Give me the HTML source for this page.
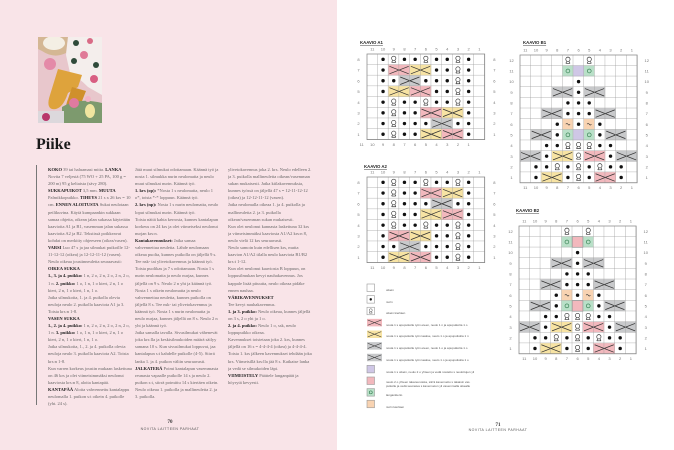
<!DOCTYPE html>
<html><head><meta charset="utf-8"><style>
body{margin:0;width:674px;height:450px;overflow:hidden;background:#fff;font-family:"Liberation Serif",serif}
.lp{position:absolute;left:0;top:0;width:337px;height:450px;background:#f9e4e8}
.col{position:absolute;top:166px;width:84px;font-size:4.5px;line-height:7.1px;color:#666;text-align:left;overflow:hidden;height:240px}
.col b{color:#222}
</style></head><body>
<div class="lp">
 <svg style="position:absolute;left:38px;top:37px" width="64" height="86" viewBox="0 0 64 86">
  <rect width="64" height="86" fill="#e8c7cc"/>
  <path d="M0 0H30L28 16Q16 22 4 14L0 12Z" fill="#d4b794"/>
  <ellipse cx="16" cy="6" rx="11" ry="7" fill="#f4efe4"/>
  <path d="M30 0H64V58L50 50Q40 40 32 36L28 18Z" fill="#f4eeec"/>
  <circle cx="38" cy="6" r="3" fill="#2f4a3a"/><circle cx="52" cy="4" r="3" fill="#d96b86"/>
  <circle cx="46" cy="18" r="4" fill="#e07a98"/><circle cx="36" cy="24" r="3" fill="#2f4a3a"/>
  <circle cx="58" cy="28" r="3" fill="#2f4a3a"/><circle cx="56" cy="42" r="4" fill="#d85f82"/>
  <circle cx="12" cy="27" r="6" fill="#e48aa8"/>
  <path d="M20 32L44 38L40 50L30 56Q24 74 14 72Q8 70 12 58Z" fill="#dea33c"/>
  <path d="M34 50L48 54L44 64Q38 80 30 76Q26 72 30 62Z" fill="#cf902c"/>
  <path d="M24 70Q40 60 64 66V86H24Z" fill="#7d9a6e"/>
  <circle cx="36" cy="66" r="5" fill="#e07aa0"/><circle cx="50" cy="62" r="3" fill="#f2b4c6"/>
  <ellipse cx="52" cy="74" rx="5" ry="7" fill="#f0e5a0"/>
  <rect x="0" y="74" width="26" height="12" fill="#dcd8dc"/>
  <circle cx="8" cy="80" r="4" fill="#b8366a"/>
 </svg>
 <div style="position:absolute;left:36px;top:136px;font-size:16px;font-weight:bold;color:#1a1a1a">Piike</div>
 <div style="position:absolute;left:36px;top:165px;width:0.6px;height:240px;background:#777"></div>
 <div class="col" style="left:48px"><b>KOKO</b> 39 tai haluamasi mitta. <b>LANKA</b> Novita 7 veljestä (75 WO + 25 PA, 100 g = 200 m) 95 g keltaista (sävy 280). <b>SUKKAPUIKOT</b> 3,5 mm. <b>MUUTA</b> Palmikkopuikko. <b>TIHEYS</b> 21 s x 26 krs = 10 cm. <b>ENNEN ALOITUSTA</b> Sukat neulotaan peilikuvina. Käytä kumpaankin sukkaan samaa ohjetta, oikean jalan sukassa käytetään kaavioita A1 ja B1, vasemman jalan sukassa kaavioita A2 ja B2. Tekstissä poikkeavat kohdat on merkitty ohjeeseen (oikea/vasen).<br><b>VARSI</b> Luo 47 s ja jaa silmukat puikoille 12-11-12-12 (oikea) ja 12-12-11-12 (vasen). Neulo oikeaa joustinneuletta seuraavasti:<br><b>OIKEA SUKKA</b><br><b>1., 3. ja 4. puikko:</b> 1 n, 2 o, 2 n, 2 o, 2 n, 2 o, 1 n. <b>2. puikko:</b> 1 o, 1 n, 1 o kiert, 2 n, 1 o kiert, 2 n, 1 o kiert, 1 n, 1 o.<br>Jatka silmukoita, 1. ja 4. puikolla olevia neuloja neulo 2. puikolla kaaviota A1 ja 3. Toista krs:n 1-8.<br><b>VASEN SUKKA</b><br><b>1., 2. ja 4. puikko:</b> 1 n, 2 o, 2 n, 2 o, 2 n, 2 o, 1 n. <b>3. puikko:</b> 1 o, 1 n, 1 o kiert, 2 n, 1 o kiert, 2 n, 1 o kiert, 1 n, 1 o.<br>Jatka silmukoita, 1., 2. ja 4. puikolla olevia neuloja neulo 3. puikolla kaaviota A2. Toista krs:n 1-8.<br>Kun varren korkeus joustin mukaan laskettuna on 46 krs ja olet viimeisimmäksi neulonut kaaviosta krs:n 8, aloita kantapää.<br><b>KANTAPÄÄ</b> Aloita vahvennettu kantalappu neulomalla 1. puikon s:t oikein 4. puikolle (yht. 24 s).</div>
 <div class="col" style="left:135px">Jätä muut silmukat odottamaan. Käännä työ ja nosta 1. silmukka nurin neulomatta ja neulo muut silmukat nurin. Käännä työ.<br><b>1. krs (op):</b> *Nosta 1 s neulomatta, neulo 1 o*, toista *-* loppuun. Käännä työ.<br><b>2. krs (np):</b> Nosta 1 s nurin neulomatta, neulo loput silmukat nurin. Käännä työ.<br>Toista näitä kahta kerrosta, kunnes kantalapun korkeus on 24 krs ja olet viimeiseksi neulonut nurjan krs:n.<br><b>Kantakavennukset:</b> Jatka samaa vahvennettua neuletta. Lähde neulomaan oikeaa puolta, kunnes puikolla on jäljellä 9 s. Tee nsk- tai ylivetokavennus ja käännä työ. Toista puolikas ja 7 s odottamaan. Nosta 1 s nurin neulomatta ja neulo nurjaa, kunnes jäljellä on 9 s. Neulo 2 n yht ja käännä työ.<br>Nosta 1 s oikein neulomatta ja neulo vahvennettua neuletta, kunnes puikolla on jäljellä 8 s. Tee nsk- tai ylivetokavennus ja käännä työ. Nosta 1 s nurin neulomatta ja neulo nurjaa, kunnes jäljellä on 8 s. Neulo 2 n yht ja käännä työ.<br>Jatka samalla tavalla. Sivusilmukat vähenevät joka krs:lla ja keskisilmukoiden määrä säilyy samana 10 s. Kun sivusilmukat loppuvat, jaa kantalapun s:t kahdelle puikolle (4-5). Siirrä lanka 1. ja 4. puikon väliin seuraavasti.<br><b>JALKATERÄ</b> Poimi kantalapun vasemmasta reunasta vapaalle puikolle 14 s ja neulo 2. puikon s:t, siirrä poimittu 14 s kiertäen oikein. Neulo oikeaa 1. puikolla ja mallineuletta 2. ja 3. puikolla.</div>
 <div class="col" style="left:228px">ylivetokavennus joka 2. krs. Neulo edelleen 2. ja 3. puikolla mallineuletta oikean/vasemman sukan mukaisesti. Jatka kiilakavennuksia, kunnes työssä on jäljellä 47 s = 12-11-12-12 (oikea) ja 12-12-11-12 (vasen).<br>Jatka neulomalla oikeaa 1. ja 4. puikolla ja mallineuletta 2. ja 3. puikolla oikean/vasemman sukan mukaisesti.<br>Kun olet neulonut kannasta laskettuna 32 krs ja viimeisimmäksi kaaviosta A1/A2 krs:n 8, neulo vielä 12 krs seuraavasti.<br>Neulo samoin kuin edellisen krs, mutta kaavion A1/A2 tilalla neulo kaaviota B1/B2 krs:t 1-12.<br>Kun olet neulonut kaaviosta B loppuun, on loppusilmukan kevyt nauhakavennus. Jos kappale lisää pituutta, neulo oikeaa pidäke ennen nauhaa.<br><b>VÄRIKAVENNUKSET</b><br>Tee kevyt nauhakavennus.<br><b>1. ja 3. puikko:</b> Neulo oikeaa, kunnes jäljellä on 3 s, 2 o yht ja 1 o.<br><b>2. ja 4. puikko:</b> Neulo 1 o, ssk, neulo loppupuikko oikeaa.<br>Kavennukset toistetaan joka 2. krs, kunnes jäljellä on 16 s = 4-4-4-4 (oikea) ja 4-4-4-4. Toista 1. krs jälkeen kavennukset tehdään joka krs. Viimeisillä krs:lla jää 8 s. Katkaise lanka ja vedä se silmukoiden läpi.<br><b>VIIMEISTELY</b> Päättele langanpäät ja höyrytä kevyesti.</div>
 <div style="position:absolute;left:150px;top:420px;width:40px;text-align:center;font-size:5px;font-weight:bold;color:#333">70</div>
 <div style="position:absolute;left:130px;top:427px;width:80px;text-align:center;font-size:3.5px;letter-spacing:0.5px;color:#555;font-family:'Liberation Sans',sans-serif">NOVITA LAITTEEN PARHAAT</div>
</div>

<svg style="position:absolute;left:0;top:0" width="674" height="450" font-family="Liberation Sans, sans-serif">
<defs>
 <pattern id="gp" patternUnits="userSpaceOnUse" width="1" height="1"><path d="M1 0V1H0" fill="none" stroke="#9a9a9a" stroke-width="0.07"/></pattern>
 <circle id="d" cx="0.5" cy="0.5" r="0.16" fill="#111"/>
 <g id="q"><circle cx="0.5" cy="0.4" r="0.2" fill="none" stroke="#333" stroke-width="0.06"/><path d="M0.3 0.78H0.7M0.4 0.6L0.3 0.78M0.6 0.6L0.7 0.78" stroke="#333" stroke-width="0.06" fill="none"/></g>
 <path id="x" d="M0.1 0.15L1.9 0.85M0.1 0.85L1.9 0.15" stroke="#333" stroke-width="0.07" fill="none"/>
 <g id="a1">
  <rect x="2" y="1" width="2" height="1" fill="#f2b8bd"/><rect x="4" y="1" width="2" height="1" fill="#f7e3a3"/><rect x="3" y="2" width="2" height="1" fill="#c8c9cb"/><rect x="2" y="3" width="2" height="1" fill="#f7e3a3"/><rect x="4" y="3" width="2" height="1" fill="#f2b8bd"/><rect x="5" y="5" width="2" height="1" fill="#f2b8bd"/><rect x="7" y="5" width="2" height="1" fill="#f7e3a3"/><rect x="6" y="6" width="2" height="1" fill="#c8c9cb"/><rect x="5" y="7" width="2" height="1" fill="#f7e3a3"/><rect x="7" y="7" width="2" height="1" fill="#f2b8bd"/>
  <use href="#x" x="2" y="1"/><use href="#x" x="4" y="1"/><use href="#x" x="3" y="2"/><use href="#x" x="2" y="3"/><use href="#x" x="4" y="3"/><use href="#x" x="5" y="5"/><use href="#x" x="7" y="5"/><use href="#x" x="6" y="6"/><use href="#x" x="5" y="7"/><use href="#x" x="7" y="7"/>
  <use href="#d" x="1" y="0"/><use href="#d" x="3" y="0"/><use href="#d" x="4" y="0"/><use href="#d" x="6" y="0"/><use href="#d" x="7" y="0"/><use href="#d" x="9" y="0"/>
  <use href="#d" x="1" y="1"/><use href="#d" x="6" y="1"/><use href="#d" x="7" y="1"/><use href="#d" x="9" y="1"/>
  <use href="#d" x="1" y="2"/><use href="#d" x="2" y="2"/><use href="#d" x="5" y="2"/><use href="#d" x="6" y="2"/><use href="#d" x="7" y="2"/><use href="#d" x="9" y="2"/>
  <use href="#d" x="1" y="3"/><use href="#d" x="6" y="3"/><use href="#d" x="7" y="3"/><use href="#d" x="9" y="3"/>
  <use href="#d" x="1" y="4"/><use href="#d" x="3" y="4"/><use href="#d" x="4" y="4"/><use href="#d" x="6" y="4"/><use href="#d" x="7" y="4"/><use href="#d" x="9" y="4"/>
  <use href="#d" x="1" y="5"/><use href="#d" x="3" y="5"/><use href="#d" x="4" y="5"/><use href="#d" x="9" y="5"/>
  <use href="#d" x="1" y="6"/><use href="#d" x="3" y="6"/><use href="#d" x="4" y="6"/><use href="#d" x="5" y="6"/><use href="#d" x="8" y="6"/><use href="#d" x="9" y="6"/>
  <use href="#d" x="1" y="7"/><use href="#d" x="3" y="7"/><use href="#d" x="4" y="7"/><use href="#d" x="9" y="7"/>
  <use href="#q" x="2" y="0"/><use href="#q" x="5" y="0"/><use href="#q" x="8" y="0"/><use href="#q" x="8" y="1"/><use href="#q" x="8" y="2"/><use href="#q" x="8" y="3"/><use href="#q" x="2" y="4"/><use href="#q" x="5" y="4"/><use href="#q" x="8" y="4"/><use href="#q" x="2" y="5"/><use href="#q" x="2" y="6"/><use href="#q" x="2" y="7"/>
  <rect width="11" height="8" fill="url(#gp)" stroke="#888" stroke-width="0.07"/>
 </g>
 <g id="a2">
  <rect x="5" y="1" width="2" height="1" fill="#f2b8bd"/><rect x="7" y="1" width="2" height="1" fill="#f7e3a3"/><rect x="6" y="2" width="2" height="1" fill="#c8c9cb"/><rect x="5" y="3" width="2" height="1" fill="#f7e3a3"/><rect x="7" y="3" width="2" height="1" fill="#f2b8bd"/><rect x="2" y="5" width="2" height="1" fill="#f2b8bd"/><rect x="4" y="5" width="2" height="1" fill="#f7e3a3"/><rect x="3" y="6" width="2" height="1" fill="#c8c9cb"/><rect x="2" y="7" width="2" height="1" fill="#f7e3a3"/><rect x="4" y="7" width="2" height="1" fill="#f2b8bd"/>
  <use href="#x" x="5" y="1"/><use href="#x" x="7" y="1"/><use href="#x" x="6" y="2"/><use href="#x" x="5" y="3"/><use href="#x" x="7" y="3"/><use href="#x" x="2" y="5"/><use href="#x" x="4" y="5"/><use href="#x" x="3" y="6"/><use href="#x" x="2" y="7"/><use href="#x" x="4" y="7"/>
  <use href="#d" x="1" y="0"/><use href="#d" x="3" y="0"/><use href="#d" x="4" y="0"/><use href="#d" x="6" y="0"/><use href="#d" x="7" y="0"/><use href="#d" x="9" y="0"/>
  <use href="#d" x="1" y="1"/><use href="#d" x="3" y="1"/><use href="#d" x="4" y="1"/><use href="#d" x="9" y="1"/>
  <use href="#d" x="1" y="2"/><use href="#d" x="3" y="2"/><use href="#d" x="4" y="2"/><use href="#d" x="5" y="2"/><use href="#d" x="8" y="2"/><use href="#d" x="9" y="2"/>
  <use href="#d" x="1" y="3"/><use href="#d" x="3" y="3"/><use href="#d" x="4" y="3"/><use href="#d" x="9" y="3"/>
  <use href="#d" x="1" y="4"/><use href="#d" x="3" y="4"/><use href="#d" x="4" y="4"/><use href="#d" x="6" y="4"/><use href="#d" x="7" y="4"/><use href="#d" x="9" y="4"/>
  <use href="#d" x="1" y="5"/><use href="#d" x="6" y="5"/><use href="#d" x="7" y="5"/><use href="#d" x="9" y="5"/>
  <use href="#d" x="1" y="6"/><use href="#d" x="2" y="6"/><use href="#d" x="5" y="6"/><use href="#d" x="6" y="6"/><use href="#d" x="7" y="6"/><use href="#d" x="9" y="6"/>
  <use href="#d" x="1" y="7"/><use href="#d" x="6" y="7"/><use href="#d" x="7" y="7"/><use href="#d" x="9" y="7"/>
  <use href="#q" x="2" y="0"/><use href="#q" x="5" y="0"/><use href="#q" x="8" y="0"/><use href="#q" x="2" y="1"/><use href="#q" x="2" y="2"/><use href="#q" x="2" y="3"/><use href="#q" x="2" y="4"/><use href="#q" x="5" y="4"/><use href="#q" x="8" y="4"/><use href="#q" x="8" y="5"/><use href="#q" x="8" y="6"/><use href="#q" x="8" y="7"/>
  <rect width="11" height="8" fill="url(#gp)" stroke="#888" stroke-width="0.07"/>
 </g>
 <g id="b1">
  <rect x="4" y="1" width="1" height="1" fill="#b9e0c8"/><rect x="5" y="1" width="1" height="1" fill="#cfc7e6"/><rect x="6" y="1" width="1" height="1" fill="#b9e0c8"/>
  <rect x="4" y="7" width="1" height="1" fill="#b9e0c8"/><rect x="5" y="7" width="1" height="1" fill="#cfc7e6"/><rect x="6" y="7" width="1" height="1" fill="#b9e0c8"/>
  <rect x="4" y="6" width="1" height="1" fill="#f8d3b2"/><rect x="6" y="6" width="1" height="1" fill="#f8d3b2"/>
  <rect x="3" y="3" width="2" height="1" fill="#c8c9cb"/><rect x="6" y="3" width="2" height="1" fill="#c8c9cb"/><rect x="2" y="5" width="2" height="1" fill="#c8c9cb"/><rect x="7" y="5" width="2" height="1" fill="#c8c9cb"/><rect x="1" y="7" width="2" height="1" fill="#c8c9cb"/><rect x="8" y="7" width="2" height="1" fill="#c8c9cb"/><rect x="0" y="9" width="2" height="1" fill="#c8c9cb"/><rect x="9" y="9" width="2" height="1" fill="#c8c9cb"/>
  <rect x="3" y="9" width="2" height="1" fill="#f7e3a3"/><rect x="6" y="9" width="2" height="1" fill="#f2b8bd"/><rect x="2" y="11" width="2" height="1" fill="#f7e3a3"/><rect x="7" y="11" width="2" height="1" fill="#f2b8bd"/>
  <use href="#x" x="3" y="3"/><use href="#x" x="6" y="3"/><use href="#x" x="2" y="5"/><use href="#x" x="7" y="5"/><use href="#x" x="1" y="7"/><use href="#x" x="8" y="7"/><use href="#x" x="0" y="9"/><use href="#x" x="9" y="9"/><use href="#x" x="3" y="9"/><use href="#x" x="6" y="9"/><use href="#x" x="2" y="11"/><use href="#x" x="7" y="11"/>
  <circle cx="4.5" cy="1.5" r="0.18" fill="none" stroke="#2d7a4a" stroke-width="0.06"/><circle cx="6.5" cy="1.5" r="0.18" fill="none" stroke="#2d7a4a" stroke-width="0.06"/><circle cx="4.5" cy="7.5" r="0.18" fill="none" stroke="#2d7a4a" stroke-width="0.06"/><circle cx="6.5" cy="7.5" r="0.18" fill="none" stroke="#2d7a4a" stroke-width="0.06"/>
  <path d="M4.3 6.5Q4.4 6.35 4.5 6.5T4.7 6.5M6.3 6.5Q6.4 6.35 6.5 6.5T6.7 6.5" stroke="#333" stroke-width="0.06" fill="none"/>
  <use href="#d" x="5" y="2"/><use href="#d" x="5" y="3"/><use href="#d" x="4" y="4"/><use href="#d" x="5" y="4"/><use href="#d" x="6" y="4"/><use href="#d" x="4" y="5"/><use href="#d" x="5" y="5"/><use href="#d" x="6" y="5"/><use href="#d" x="3" y="6"/><use href="#d" x="5" y="6"/><use href="#d" x="7" y="6"/><use href="#d" x="3" y="7"/><use href="#d" x="7" y="7"/><use href="#d" x="2" y="8"/><use href="#d" x="3" y="8"/><use href="#d" x="7" y="8"/><use href="#d" x="8" y="8"/><use href="#d" x="2" y="9"/><use href="#d" x="8" y="9"/><use href="#d" x="1" y="10"/><use href="#d" x="2" y="10"/><use href="#d" x="4" y="10"/><use href="#d" x="6" y="10"/><use href="#d" x="8" y="10"/><use href="#d" x="9" y="10"/><use href="#d" x="1" y="11"/><use href="#d" x="4" y="11"/><use href="#d" x="6" y="11"/><use href="#d" x="9" y="11"/>
  <use href="#q" x="4" y="0"/><use href="#q" x="6" y="0"/><use href="#q" x="4" y="8"/><use href="#q" x="5" y="8"/><use href="#q" x="6" y="8"/><use href="#q" x="5" y="9"/><use href="#q" x="3" y="10"/><use href="#q" x="5" y="10"/><use href="#q" x="7" y="10"/><use href="#q" x="5" y="11"/>
  <rect width="11" height="12" fill="url(#gp)" stroke="#888" stroke-width="0.07"/>
 </g>
</defs>

<g font-size="4.3" fill="#222" font-weight="bold" text-decoration="underline">
 <text x="360" y="44">KAAVIO A1</text><text x="364" y="168">KAAVIO A2</text><text x="523" y="44">KAAVIO B1</text><text x="516" y="212">KAAVIO B2</text>
</g>

<g transform="translate(367,54) scale(10.7)"><use href="#a1"/>
 <g font-size="0.38" fill="#777" text-anchor="middle">
  <text y="-0.35"><tspan x="0.5">11</tspan><tspan x="1.5">10</tspan><tspan x="2.5">9</tspan><tspan x="3.5">8</tspan><tspan x="4.5">7</tspan><tspan x="5.5">6</tspan><tspan x="6.5">5</tspan><tspan x="7.5">4</tspan><tspan x="8.5">3</tspan><tspan x="9.5">2</tspan><tspan x="10.5">1</tspan></text>
  <text y="8.6"><tspan x="-0.5">11</tspan><tspan x="0.5">10</tspan><tspan x="1.5">9</tspan><tspan x="2.5">8</tspan><tspan x="3.5">7</tspan><tspan x="4.5">6</tspan><tspan x="5.5">5</tspan><tspan x="6.5">4</tspan><tspan x="7.5">3</tspan><tspan x="8.5">2</tspan><tspan x="9.5">1</tspan></text>
  <text><tspan x="-0.8" y="0.65">8</tspan><tspan x="-0.8" y="1.65">7</tspan><tspan x="-0.8" y="2.65">6</tspan><tspan x="-0.8" y="3.65">5</tspan><tspan x="-0.8" y="4.65">4</tspan><tspan x="-0.8" y="5.65">3</tspan><tspan x="-0.8" y="6.65">2</tspan><tspan x="-0.8" y="7.65">1</tspan></text>
  <text><tspan x="11.9" y="0.65">8</tspan><tspan x="11.9" y="1.65">7</tspan><tspan x="11.9" y="2.65">6</tspan><tspan x="11.9" y="3.65">5</tspan><tspan x="11.9" y="4.65">4</tspan><tspan x="11.9" y="5.65">3</tspan><tspan x="11.9" y="6.65">2</tspan><tspan x="11.9" y="7.65">1</tspan></text>
 </g></g>

<g transform="translate(367,177) scale(10.7)"><use href="#a2"/>
 <g font-size="0.38" fill="#777" text-anchor="middle">
  <text y="-0.35"><tspan x="0.5">11</tspan><tspan x="1.5">10</tspan><tspan x="2.5">9</tspan><tspan x="3.5">8</tspan><tspan x="4.5">7</tspan><tspan x="5.5">6</tspan><tspan x="6.5">5</tspan><tspan x="7.5">4</tspan><tspan x="8.5">3</tspan><tspan x="9.5">2</tspan><tspan x="10.5">1</tspan></text>
  <text y="8.6"><tspan x="0.5">11</tspan><tspan x="1.5">10</tspan><tspan x="2.5">9</tspan><tspan x="3.5">8</tspan><tspan x="4.5">7</tspan><tspan x="5.5">6</tspan><tspan x="6.5">5</tspan><tspan x="7.5">4</tspan><tspan x="8.5">3</tspan><tspan x="9.5">2</tspan><tspan x="10.5">1</tspan></text>
  <text><tspan x="-0.8" y="0.65">8</tspan><tspan x="-0.8" y="1.65">7</tspan><tspan x="-0.8" y="2.65">6</tspan><tspan x="-0.8" y="3.65">5</tspan><tspan x="-0.8" y="4.65">4</tspan><tspan x="-0.8" y="5.65">3</tspan><tspan x="-0.8" y="6.65">2</tspan><tspan x="-0.8" y="7.65">1</tspan></text>
  <text><tspan x="11.9" y="0.65">8</tspan><tspan x="11.9" y="1.65">7</tspan><tspan x="11.9" y="2.65">6</tspan><tspan x="11.9" y="3.65">5</tspan><tspan x="11.9" y="4.65">4</tspan><tspan x="11.9" y="5.65">3</tspan><tspan x="11.9" y="6.65">2</tspan><tspan x="11.9" y="7.65">1</tspan></text>
 </g></g>

<g transform="translate(520,55) scale(10.65)"><use href="#b1"/>
 <g font-size="0.38" fill="#777" text-anchor="middle">
  <text y="-0.35"><tspan x="0.5">11</tspan><tspan x="1.5">10</tspan><tspan x="2.5">9</tspan><tspan x="3.5">8</tspan><tspan x="4.5">7</tspan><tspan x="5.5">6</tspan><tspan x="6.5">5</tspan><tspan x="7.5">4</tspan><tspan x="8.5">3</tspan><tspan x="9.5">2</tspan><tspan x="10.5">1</tspan></text>
  <text y="12.6"><tspan x="0.5">11</tspan><tspan x="1.5">10</tspan><tspan x="2.5">9</tspan><tspan x="3.5">8</tspan><tspan x="4.5">7</tspan><tspan x="5.5">6</tspan><tspan x="6.5">5</tspan><tspan x="7.5">4</tspan><tspan x="8.5">3</tspan><tspan x="9.5">2</tspan><tspan x="10.5">1</tspan></text>
  <text><tspan x="-0.8" y="0.65">12</tspan><tspan x="-0.8" y="1.65">11</tspan><tspan x="-0.8" y="2.65">10</tspan><tspan x="-0.8" y="3.65">9</tspan><tspan x="-0.8" y="4.65">8</tspan><tspan x="-0.8" y="5.65">7</tspan><tspan x="-0.8" y="6.65">6</tspan><tspan x="-0.8" y="7.65">5</tspan><tspan x="-0.8" y="8.65">4</tspan><tspan x="-0.8" y="9.65">3</tspan><tspan x="-0.8" y="10.65">2</tspan><tspan x="-0.8" y="11.65">1</tspan></text>
  <text><tspan x="11.9" y="0.65">12</tspan><tspan x="11.9" y="1.65">11</tspan><tspan x="11.9" y="2.65">10</tspan><tspan x="11.9" y="3.65">9</tspan><tspan x="11.9" y="4.65">8</tspan><tspan x="11.9" y="5.65">7</tspan><tspan x="11.9" y="6.65">6</tspan><tspan x="11.9" y="7.65">5</tspan><tspan x="11.9" y="8.65">4</tspan><tspan x="11.9" y="9.65">3</tspan><tspan x="11.9" y="10.65">2</tspan><tspan x="11.9" y="11.65">1</tspan></text>
 </g></g>

<g transform="translate(519,226) scale(10.65)"><use href="#b1"/>
 <rect x="5" y="1" width="1" height="1" fill="#f2b8bd" stroke="#9a9a9a" stroke-width="0.07"/><rect x="5" y="7" width="1" height="1" fill="#f2b8bd" stroke="#9a9a9a" stroke-width="0.07"/>
 <g font-size="0.38" fill="#777" text-anchor="middle">
  <text y="-0.35"><tspan x="0.5">11</tspan><tspan x="1.5">10</tspan><tspan x="2.5">9</tspan><tspan x="3.5">8</tspan><tspan x="4.5">7</tspan><tspan x="5.5">6</tspan><tspan x="6.5">5</tspan><tspan x="7.5">4</tspan><tspan x="8.5">3</tspan><tspan x="9.5">2</tspan><tspan x="10.5">1</tspan></text>
  <text y="12.6"><tspan x="0.5">11</tspan><tspan x="1.5">10</tspan><tspan x="2.5">9</tspan><tspan x="3.5">8</tspan><tspan x="4.5">7</tspan><tspan x="5.5">6</tspan><tspan x="6.5">5</tspan><tspan x="7.5">4</tspan><tspan x="8.5">3</tspan><tspan x="9.5">2</tspan><tspan x="10.5">1</tspan></text>
  <text><tspan x="-0.8" y="0.65">12</tspan><tspan x="-0.8" y="1.65">11</tspan><tspan x="-0.8" y="2.65">10</tspan><tspan x="-0.8" y="3.65">9</tspan><tspan x="-0.8" y="4.65">8</tspan><tspan x="-0.8" y="5.65">7</tspan><tspan x="-0.8" y="6.65">6</tspan><tspan x="-0.8" y="7.65">5</tspan><tspan x="-0.8" y="8.65">4</tspan><tspan x="-0.8" y="9.65">3</tspan><tspan x="-0.8" y="10.65">2</tspan><tspan x="-0.8" y="11.65">1</tspan></text>
  <text><tspan x="11.9" y="0.65">12</tspan><tspan x="11.9" y="1.65">11</tspan><tspan x="11.9" y="2.65">10</tspan><tspan x="11.9" y="3.65">9</tspan><tspan x="11.9" y="4.65">8</tspan><tspan x="11.9" y="5.65">7</tspan><tspan x="11.9" y="6.65">6</tspan><tspan x="11.9" y="7.65">5</tspan><tspan x="11.9" y="8.65">4</tspan><tspan x="11.9" y="9.65">3</tspan><tspan x="11.9" y="10.65">2</tspan><tspan x="11.9" y="11.65">1</tspan></text>
 </g></g>

<g transform="translate(367,284) scale(7.5)">
 <rect x="0" y="0" width="1" height="1" fill="#fff" stroke="#999" stroke-width="0.08"/>
 <rect x="0" y="1.55" width="1" height="1" fill="#fff" stroke="#999" stroke-width="0.08"/><use href="#d" x="0" y="1.55"/>
 <rect x="0" y="3.1" width="1" height="1" fill="#fff" stroke="#999" stroke-width="0.08"/><use href="#q" x="0" y="3.1"/>
 <rect x="0" y="4.65" width="2" height="1" fill="#f2b8bd"/><use href="#x" x="0" y="4.65"/>
 <rect x="0" y="6.2" width="2" height="1" fill="#f7e3a3"/><use href="#x" x="0" y="6.2"/>
 <rect x="0" y="7.75" width="2" height="1" fill="#c8c9cb"/><use href="#x" x="0" y="7.75"/>
 <rect x="0" y="9.3" width="2" height="1" fill="#c8c9cb"/><use href="#x" x="0" y="9.3"/>
 <rect x="0" y="10.85" width="1" height="1" fill="#cfc7e6" stroke="#999" stroke-width="0.08"/>
 <rect x="0" y="12.4" width="1" height="1" fill="#f2b8bd" stroke="#999" stroke-width="0.08"/>
 <rect x="0" y="13.95" width="1" height="1" fill="#b9e0c8" stroke="#999" stroke-width="0.08"/><circle cx="0.5" cy="14.45" r="0.2" fill="none" stroke="#2d7a4a" stroke-width="0.08"/>
 <rect x="0" y="15.5" width="1" height="1" fill="#f8d3b2" stroke="#999" stroke-width="0.08"/>
</g>
<g font-size="3" fill="#555">
 <text x="386" y="291">oikein</text>
 <text x="386" y="303">nurin</text>
 <text x="386" y="314">oikein kiertäen</text>
 <text x="386" y="326">nosta 1 s apupuikolle työn eteen, neulo 1 n ja apupuikolta 1 o</text>
 <text x="386" y="337">nosta 1 s apupuikolle työn taakse, neulo 1 o ja apupuikolta 1 n</text>
 <text x="386" y="349">nosta 1 s apupuikolle työn eteen, neulo 1 o ja apupuikolta 1 o</text>
 <text x="386" y="361">nosta 1 s apupuikolle työn taakse, neulo 1 o ja apupuikolta 1 o</text>
 <text x="386" y="373">nosta 1 s oikein, neulo 2 o yhteen ja vedä nostettu s neulottujen yli</text>
 <text x="386" y="383">neulo 2 o yhteen takareunoista, siirrä kavennettu s takaisin vas.</text>
 <text x="386" y="387">puikolle ja vedä seuraava s kavennetun yli vasemmalla oikealle</text>
 <text x="386" y="396">langankierto</text>
 <text x="386" y="408">nurin kiertäen</text>
</g>
<text x="498" y="426" font-size="5" font-weight="bold" fill="#333" text-anchor="middle" font-family="Liberation Serif, serif">71</text>
<text x="498" y="431" font-size="3.5" fill="#555" text-anchor="middle" letter-spacing="0.5">NOVITA LAITTEEN PARHAAT</text>
</svg>
</body></html>
